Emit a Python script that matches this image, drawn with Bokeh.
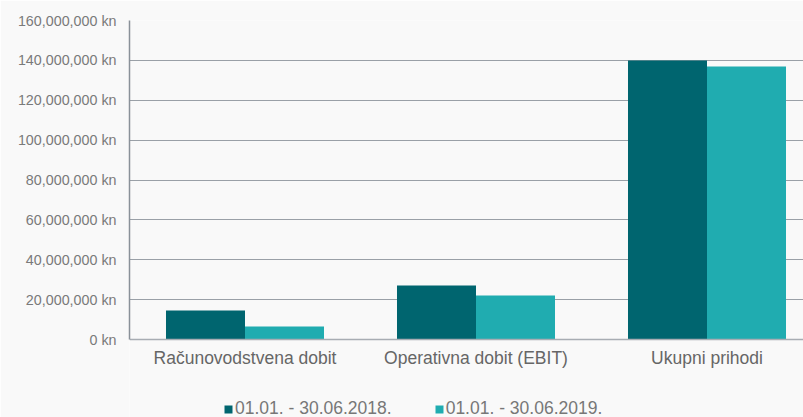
from bokeh.plotting import figure
from bokeh.models import Range1d, FixedTicker, Legend, LegendItem, ColumnDataSource
from bokeh.embed import file_html
from bokeh.resources import INLINE

categories = ["Računovodstvena dobit", "Operativna dobit (EBIT)", "Ukupni prihodi"]
series_names = ["01.01. - 30.06.2018.", "01.01. - 30.06.2019."]
values_2018 = [14500000, 27100000, 139900000]
values_2019 = [6500000, 22100000, 136900000]
y_ticks = [0, 20000000, 40000000, 60000000, 80000000, 100000000, 120000000, 140000000, 160000000]

colors = ["#00656f", "#20acb0"]
bg = "#f9f9f9"
font = "Liberation Sans"

x_pos = [i + 0.5 for i in range(len(categories))]
bw = 0.342

y_max = y_ticks[-1]
plot_px = 319      # pixels between 0 and the top tick
below_px = 78      # room under the baseline for labels and legend
y_min = -below_px * y_max / plot_px

p = figure(frame_width=674, frame_height=plot_px + below_px, output_backend="svg", toolbar_location=None,
           x_range=Range1d(0, 674 / 231), y_range=Range1d(y_min, y_max),
           background_fill_color=bg, border_fill_color=bg, outline_line_color=None,
           min_border_left=129, min_border_right=0, min_border_top=20, min_border_bottom=0)

s1 = ColumnDataSource(dict(x=[x - bw / 2 for x in x_pos], top=values_2018))
s2 = ColumnDataSource(dict(x=[x + bw / 2 for x in x_pos], top=values_2019))
r1 = p.vbar(x="x", top="top", width=bw, source=s1, fill_color=colors[0], line_color=None)
r2 = p.vbar(x="x", top="top", width=bw, source=s2, fill_color=colors[1], line_color=None)

p.xgrid.visible = False
p.ygrid.grid_line_color = "#9aa0a7"
p.ygrid.grid_line_width = 1.2
p.ygrid.ticker = FixedTicker(ticks=y_ticks[1:])

p.yaxis.ticker = FixedTicker(ticks=y_ticks)
p.yaxis.bounds = (0, y_max)
p.yaxis.major_label_overrides = {t: f"{t:,} kn" for t in y_ticks}
p.yaxis.major_tick_line_color = None
p.yaxis.minor_tick_line_color = None
p.yaxis.axis_line_color = "#8a9199"
p.yaxis.axis_line_width = 1.5
p.yaxis.major_label_text_font = font
p.yaxis.major_label_text_font_size = "14.3px"
p.yaxis.major_label_text_color = "#7a7a7a"
p.yaxis.major_label_standoff = 7

p.xaxis.fixed_location = 0
p.xaxis.ticker = FixedTicker(ticks=x_pos)
p.xaxis.major_label_overrides = {x: c for x, c in zip(x_pos, categories)}
p.xaxis.major_tick_line_color = None
p.xaxis.minor_tick_line_color = None
p.xaxis.axis_line_color = "#a8adb3"
p.xaxis.axis_line_width = 1.5
p.xaxis.major_label_text_font = font
p.xaxis.major_label_text_font_size = "17.5px"
p.xaxis.major_label_text_color = "#666666"
p.xaxis.major_label_standoff = 2

legend = Legend(items=[LegendItem(label=series_names[0], renderers=[r1]),
                       LegendItem(label=series_names[1], renderers=[r2])],
                orientation="horizontal", location=(94, -2),
                glyph_width=10, glyph_height=10, label_standoff=2, spacing=42,
                padding=0, margin=0, border_line_color=None, background_fill_alpha=0,
                label_text_font=font, label_text_font_size="17.5px", label_text_color="#777777",
                label_height=14)
p.add_layout(legend, "center")

open("out.html", "w").write(file_html(p, INLINE))
